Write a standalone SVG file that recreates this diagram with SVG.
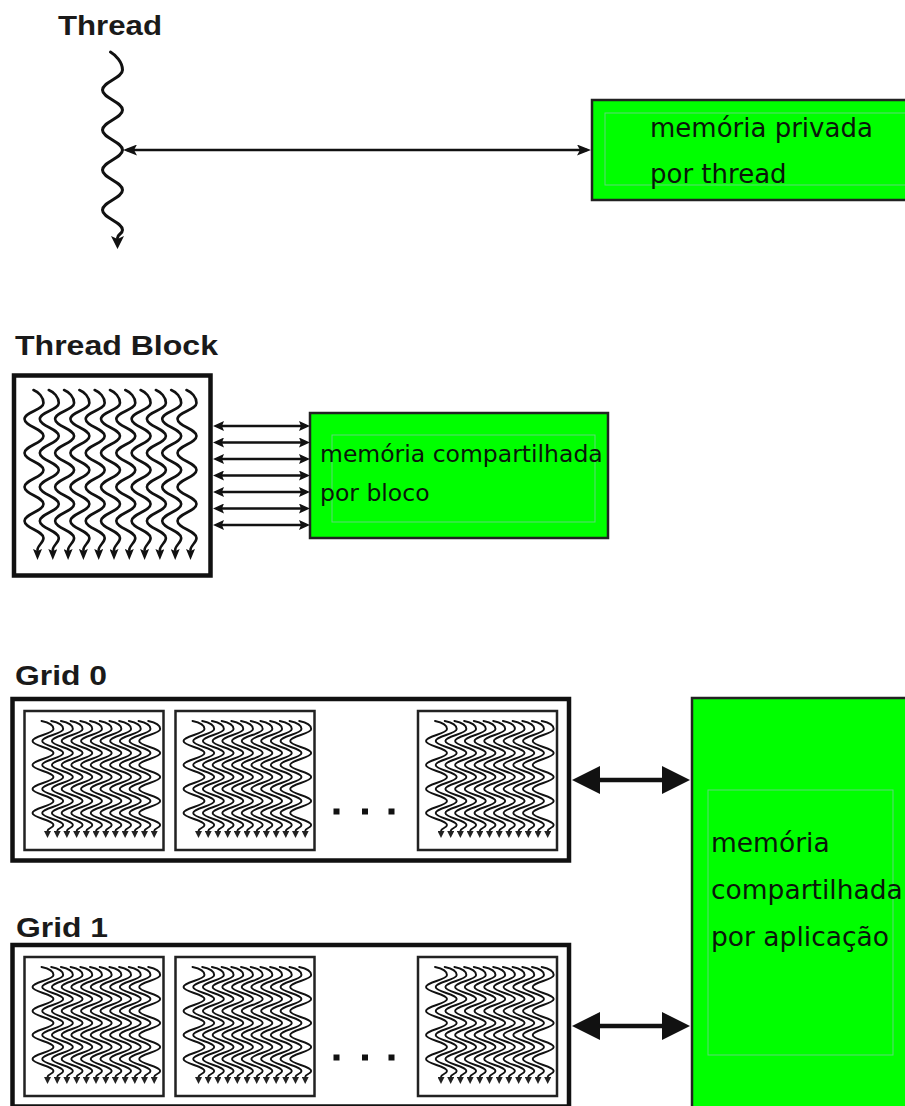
<svg xmlns="http://www.w3.org/2000/svg" xmlns:xlink="http://www.w3.org/1999/xlink" width="905" height="1106" viewBox="0 0 905 1106">
  <style>
    .label { font-family: "Liberation Sans", Arial, sans-serif; font-weight: bold; font-size: 28px; fill: #1a1a1a; }
    .memtxt { font-family: "DejaVu Sans", Verdana, sans-serif; fill: #0a160a; }
    .mem { fill: #00ff00; stroke: #222; stroke-width: 2.5; }
    .inner { fill: none; stroke: #5fd87a; stroke-width: 1; }
    .frame { fill: #fff; stroke: #111; stroke-width: 4.5; }
    .blk { fill: #fff; stroke: #222; stroke-width: 2.5; }
    .thr { fill: none; stroke: #111; stroke-linecap: round; stroke-linejoin: round; }
    .link { fill: none; stroke: #111; }
    .dot { fill: #111; }
  </style>
  <defs>
    <!-- arrowheads for the connectors -->
    <marker id="aT" markerUnits="userSpaceOnUse" viewBox="0 0 14 11" markerWidth="14" markerHeight="11" refX="10" refY="5.5" orient="auto-start-reverse">
      <path d="M0,0 L14,5.5 L0,11 L3,5.5 Z" fill="#111"/>
    </marker>
    <marker id="aB" markerUnits="userSpaceOnUse" viewBox="0 0 11 10" markerWidth="11" markerHeight="10" refX="7" refY="5" orient="auto-start-reverse">
      <path d="M0,0 L11,5 L0,10 L2,5 Z" fill="#111"/>
    </marker>
    <marker id="aG" markerUnits="userSpaceOnUse" viewBox="0 0 28 28" markerWidth="28" markerHeight="28" refX="10" refY="14" orient="auto-start-reverse">
      <path d="M0,0 L28,14 L0,28 Z" fill="#111"/>
    </marker>
    <!-- arrowheads at the end of each thread -->
    <marker id="t1" markerUnits="userSpaceOnUse" viewBox="0 0 13 13" markerWidth="13" markerHeight="13" refX="2" refY="6.5" orient="auto">
      <path d="M0,0 L13,6.5 L0,13 L3,6.5 Z" fill="#111"/>
    </marker>
    <marker id="t2" markerUnits="userSpaceOnUse" viewBox="0 0 11 9" markerWidth="11" markerHeight="9" refX="1" refY="4.5" orient="auto">
      <path d="M0,0 L11,4.5 L0,9 L2,4.5 Z" fill="#111"/>
    </marker>
    <marker id="t3" markerUnits="userSpaceOnUse" viewBox="0 0 7 7" markerWidth="7" markerHeight="7" refX="0" refY="3.5" orient="auto">
      <path d="M0,0 L7,3.5 L0,7 Z" fill="#222"/>
    </marker>

    <!-- wavy thread inside a thread block -->
    <path id="bth" class="thr" stroke-width="2.6" marker-end="url(#t2)"
      d="M-1,0 C4,2 9,7 9,13 C9,20 -10,22 -10,29 C-10,36 9,39 9,46 C9,53 -10,56 -10,63 C-10,70 9,73 9,80 C9,87 -10,90 -10,97 C-10,104 9,107 9,114 C9,121 -10,124 -10,131 C-10,138 9,141 9,148 C9,153 3,155 3,160"/>

    <!-- compact thread used inside grid blocks -->
    <path id="gth" class="thr" stroke-width="1.9" stroke="#222" marker-end="url(#t3)"
      d="M-2,0 C3,1 10,3 10,8 C10,13 -11,15 -11,20 C-11,25 10,27 10,32 C10,37 -11,39 -11,44 C-11,49 10,51 10,56 C10,61 -11,63 -11,68 C-11,73 10,75 10,80 C10,85 -11,87 -11,92 C-11,97 10,99 10,104 C10,107 4,107 4,110"/>

    <!-- one block of a grid: frame plus twelve threads -->
    <g id="gblock">
      <rect class="blk" x="0" y="0" width="139" height="139"/>
      <use href="#gth" x="19" y="10"/>
      <use href="#gth" x="28.7" y="10"/>
      <use href="#gth" x="38.4" y="10"/>
      <use href="#gth" x="48.1" y="10"/>
      <use href="#gth" x="57.8" y="10"/>
      <use href="#gth" x="67.5" y="10"/>
      <use href="#gth" x="77.2" y="10"/>
      <use href="#gth" x="86.9" y="10"/>
      <use href="#gth" x="96.6" y="10"/>
      <use href="#gth" x="106.3" y="10"/>
      <use href="#gth" x="116" y="10"/>
      <use href="#gth" x="125.7" y="10"/>
    </g>
  </defs>

  <rect x="0" y="0" width="905" height="1106" fill="#fff"/>

  <!-- single thread -->
  <g id="thread">
    <text class="label" x="58" y="35" textLength="104" lengthAdjust="spacingAndGlyphs">Thread</text>
    <path class="thr" stroke-width="3" marker-end="url(#t1)" transform="translate(112.5,52)"
      d="M-2,0 C3,3 10,10 10,18 C10,26 -10,30 -10,38 C-10,46 10,50 10,58 C10,66 -10,70 -10,78 C-10,86 10,90 10,98 C10,106 -10,110 -10,118 C-10,126 10,130 10,138 C10,146 -10,150 -10,158 C-10,166 10,170 10,178 C10,182 5,182 5,186"/>
  </g>

  <!-- per-thread private memory -->
  <g id="mem-thread">
    <rect class="mem" x="592" y="100" width="330" height="100"/>
    <rect class="inner" x="605" y="113" width="400" height="72"/>
    <text class="memtxt" font-size="26" x="650" y="137">memória privada</text>
    <text class="memtxt" font-size="26" x="650" y="183">por thread</text>
  </g>

  <!-- thread block -->
  <g id="thread-block">
    <text class="label" x="15" y="355" textLength="203" lengthAdjust="spacingAndGlyphs">Thread Block</text>
    <rect class="frame" x="14" y="375.5" width="196.5" height="200"/>
    <g transform="translate(0,390)">
      <use href="#bth" x="34.5"/>
      <use href="#bth" x="49.8"/>
      <use href="#bth" x="65.1"/>
      <use href="#bth" x="80.4"/>
      <use href="#bth" x="95.7"/>
      <use href="#bth" x="111"/>
      <use href="#bth" x="126.3"/>
      <use href="#bth" x="141.6"/>
      <use href="#bth" x="156.9"/>
      <use href="#bth" x="172.2"/>
      <use href="#bth" x="187.5"/>
    </g>
  </g>

  <!-- per-block shared memory -->
  <g id="mem-block">
    <rect class="mem" x="310" y="413" width="298" height="125"/>
    <rect class="inner" x="332" y="435" width="263" height="87"/>
    <text class="memtxt" font-size="23.5" x="320" y="462">memória compartilhada</text>
    <text class="memtxt" font-size="23.5" x="320" y="501">por bloco</text>
  </g>

  <!-- grid 0 -->
  <g id="grid0">
    <text class="label" x="15" y="685" textLength="92" lengthAdjust="spacingAndGlyphs">Grid 0</text>
    <rect class="frame" x="12.5" y="699" width="556.5" height="161.5"/>
    <use href="#gblock" x="24.5" y="711"/>
    <use href="#gblock" x="175.5" y="711"/>
    <use href="#gblock" x="418" y="711"/>
    <rect class="dot" x="333.5" y="808.5" width="6" height="6"/>
    <rect class="dot" x="362" y="808.5" width="6" height="6"/>
    <rect class="dot" x="388.5" y="808.5" width="6" height="6"/>
  </g>

  <!-- grid 1 -->
  <g id="grid1">
    <text class="label" x="16" y="937" textLength="92" lengthAdjust="spacingAndGlyphs">Grid 1</text>
    <rect class="frame" x="12.5" y="945" width="556.5" height="161.5"/>
    <use href="#gblock" x="24.5" y="957"/>
    <use href="#gblock" x="175.5" y="957"/>
    <use href="#gblock" x="418" y="957"/>
    <rect class="dot" x="333.5" y="1054.5" width="6" height="6"/>
    <rect class="dot" x="362" y="1054.5" width="6" height="6"/>
    <rect class="dot" x="388.5" y="1054.5" width="6" height="6"/>
  </g>

  <!-- application-wide shared memory -->
  <g id="mem-app">
    <rect class="mem" x="692" y="698" width="240" height="430"/>
    <rect class="inner" x="708" y="790" width="185" height="265"/>
    <text class="memtxt" font-size="26.5" x="711" y="852">memória</text>
    <text class="memtxt" font-size="26.5" x="711" y="899">compartilhada</text>
    <text class="memtxt" font-size="26.5" x="711" y="946">por aplicação</text>
  </g>

  <!-- connectors -->
  <g id="connectors">
    <path class="link" stroke-width="2.3" marker-start="url(#aT)" marker-end="url(#aT)" d="M127,150 L587,150"/>
    <g>
      <path class="link" stroke-width="2.4" marker-start="url(#aB)" marker-end="url(#aB)" d="M217,426 L306,426"/>
      <path class="link" stroke-width="2.4" marker-start="url(#aB)" marker-end="url(#aB)" d="M217,442.5 L306,442.5"/>
      <path class="link" stroke-width="2.4" marker-start="url(#aB)" marker-end="url(#aB)" d="M217,459 L306,459"/>
      <path class="link" stroke-width="2.4" marker-start="url(#aB)" marker-end="url(#aB)" d="M217,475.5 L306,475.5"/>
      <path class="link" stroke-width="2.4" marker-start="url(#aB)" marker-end="url(#aB)" d="M217,492 L306,492"/>
      <path class="link" stroke-width="2.4" marker-start="url(#aB)" marker-end="url(#aB)" d="M217,508.5 L306,508.5"/>
      <path class="link" stroke-width="2.4" marker-start="url(#aB)" marker-end="url(#aB)" d="M217,525 L306,525"/>
    </g>
    <path class="link" stroke-width="4.5" marker-start="url(#aG)" marker-end="url(#aG)" d="M590,780 L672,780"/>
    <path class="link" stroke-width="4.5" marker-start="url(#aG)" marker-end="url(#aG)" d="M590,1026 L672,1026"/>
  </g>
</svg>
